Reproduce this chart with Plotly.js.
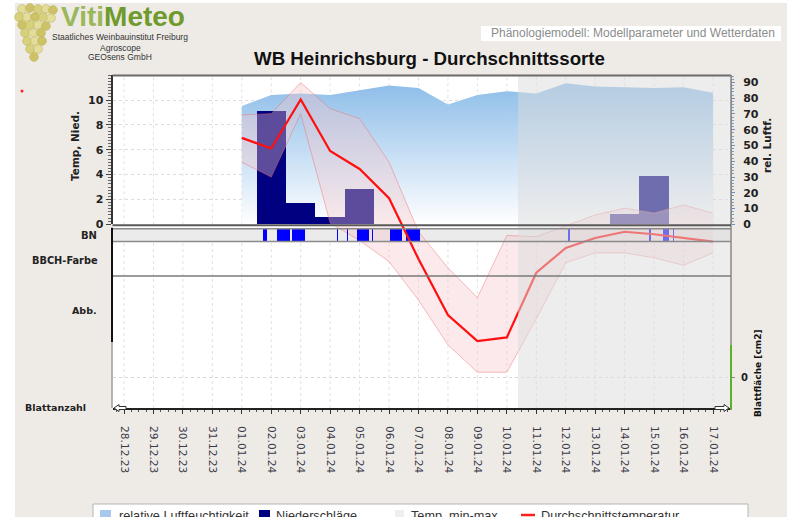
<!DOCTYPE html>
<html><head><meta charset="utf-8">
<script src="https://cdn.plot.ly/plotly-3.0.1.min.js"></script>
<style>html,body{margin:0;padding:0;background:#fff;}#chart{width:787px;height:517px;}</style>
</head><body><div id="chart"></div>
<script>
// ---------- DATA ----------
const dateLabels = ['28.12.23','29.12.23','30.12.23','31.12.23','01.01.24','02.01.24','03.01.24','04.01.24','05.01.24','06.01.24','07.01.24','08.01.24','09.01.24','10.01.24','11.01.24','12.01.24','13.01.24','14.01.24','15.01.24','16.01.24','17.01.24'];
const wxDates = ['01.01.24','02.01.24','03.01.24','04.01.24','05.01.24','06.01.24','07.01.24','08.01.24','09.01.24','10.01.24','11.01.24','12.01.24','13.01.24','14.01.24','15.01.24','16.01.24','17.01.24'];
const humidity = [75, 82, 83, 82, 85, 88, 86.5, 76, 82, 84.5, 83, 89.5, 87.5, 87, 86.5, 87, 83.5];
const tempAvg  = [6.95, 6.1, 10.05, 5.9, 4.45, 2.1, -2.8, -7.3, -9.4, -9.1, -3.9, -1.9, -1.1, -0.6, -0.8, -1.1, -1.4];
const tempMax  = [8.8, 8.9, 11.4, 9.3, 8.5, 5.0, -0.6, -3.5, -5.9, -0.9, -1.0, -0.1, 0.75, 1.3, 0.9, 1.55, 0.9];
const tempMin  = [5.0, 3.8, 8.9, 0.1, -1.3, -3.0, -6.1, -9.7, -11.9, -11.9, -7.6, -3.1, -2.3, -2.3, -2.7, -3.3, -2.3];
const precipDates = ['02.01.24','03.01.24','04.01.24','05.01.24','14.01.24','15.01.24'];
const precipitation = [9.1, 1.7, 0.55, 2.85, 0.85, 3.85];
// leaf wetness (BN) periods: start (days after 28.12.23) and duration (days)
const bnStart = [4.71, 5.18, 5.69, 7.23, 7.57, 7.92, 8.41, 9.03, 9.58, 15.09, 17.84, 18.31, 18.65];
const bnDur   = [0.14, 0.46, 0.46, 0.04, 0.04, 0.41, 0.04, 0.40, 0.47, 0.05, 0.04, 0.21, 0.04];
const forecastStart = 13.38;
const tempTicks = [0,2,4,6,8,10];
const humTicks = [0,10,20,30,40,50,60,70,80,90];
const legendItems = ['relative Luftfeuchtigkeit','Niederschläge','Temp. min-max','Durchschnittstemperatur'];

// ---------- GEOMETRY ----------
const W=787,H=517;
const fx=p=>p/W, fy=p=>1-p/H;
const X0=112.5, X1=731, T0=75, T1=224.3, BN0=228.8, BN1=241.3, BB1=276, B1=408;
const dayPx=29.45, day0Px=124;
const xr=[(X0-day0Px)/dayPx,(X1-day0Px)/dayPx];
const degPx=12.43, humPx=1.576;
const idx = d => dateLabels.indexOf(d);
const wxX = wxDates.map(idx);

const traces = [];
traces.push({x:wxX,y:humidity,type:'scatter',mode:'lines',xaxis:'x',yaxis:'y',line:{width:0,color:'#8fbfea'},
  fill:'tozeroy',fillgradient:{type:'vertical',start:0,stop:90,colorscale:[[0,'#ffffff'],[1,'#8dbde9']]},hoverinfo:'skip'});
traces.push({x:precipDates.map(idx),y:precipitation,type:'bar',width:1,xaxis:'x',yaxis:'y2',marker:{color:'#000080',line:{width:0}}});
traces.push({x:wxX,y:tempMin,type:'scatter',mode:'lines',xaxis:'x',yaxis:'y3',line:{color:'rgba(238,110,110,0.45)',width:1}});
traces.push({x:wxX,y:tempMax,type:'scatter',mode:'lines',xaxis:'x',yaxis:'y3',fill:'tonexty',fillcolor:'rgba(245,197,202,0.38)',line:{color:'rgba(238,110,110,0.45)',width:1}});
traces.push({x:bnStart,y:bnStart.map(()=>1),width:bnDur,offset:0,type:'bar',xaxis:'x',yaxis:'y4',marker:{color:'#0000ff',line:{width:0}}});
traces.push({x:[],y:[],type:'scatter',mode:'lines',xaxis:'x',yaxis:'y5'});
traces.push({x:wxX,y:tempAvg,type:'scatter',mode:'lines',xaxis:'x',yaxis:'y6',line:{color:'#ff1010',width:2.2}});

const boldTick = {family:'DejaVu Sans',size:11,color:'#222',weight:'bold'};
const layout = {
  width:W,height:H,margin:{l:0,r:0,t:0,b:0},autosize:false,
  paper_bgcolor:'#ffffff',plot_bgcolor:'rgba(0,0,0,0)',showlegend:false,bargap:0,
  xaxis:{domain:[fx(X0),fx(X1)],range:xr,anchor:'y3',tickmode:'array',tickvals:dateLabels.map((_,i)=>i),ticktext:dateLabels,
    tickangle:90,ticks:'outside',ticklen:4,tickcolor:'#333',showline:true,linecolor:'#222',linewidth:2,showgrid:false,zeroline:false,
    tickfont:{family:'DejaVu Sans',size:10.6,color:'#3a3a48'},ticklabelstandoff:10,
    minor:{tickmode:'linear',tick0:0,dtick:0.25,ticks:'outside',ticklen:2,tickcolor:'#555',showgrid:false}},
  yaxis:{domain:[fy(T1),fy(T0)],range:[0,(T1-T0)/humPx],anchor:'x',side:'right',tickmode:'array',tickvals:humTicks,
    ticks:'outside',ticklen:3,tickcolor:'#6d8fc0',showline:true,linecolor:'#8a8a8a',linewidth:1,showgrid:false,zeroline:false,
    tickfont:boldTick,ticklabelstandoff:6,minor:{tickmode:'linear',tick0:0,dtick:2,ticks:'outside',ticklen:2,tickcolor:'#7a9ccc'}},
  yaxis2:{overlaying:'y',side:'left',anchor:'x',range:[0,(T1-T0)/degPx],tickmode:'array',tickvals:tempTicks,
    ticks:'outside',ticklen:5,tickcolor:'#444',showline:true,linecolor:'#333',linewidth:2,showgrid:true,gridcolor:'#dcdcdc',griddash:'dot',zeroline:false,
    tickfont:boldTick,minor:{tickmode:'linear',tick0:0,dtick:0.25,ticks:'outside',ticklen:3,tickcolor:'#666'}},
  yaxis3:{domain:[fy(B1),fy(T0)],range:[(T1-B1)/degPx,(T1-T0)/degPx],anchor:'x',visible:false},
  yaxis4:{domain:[fy(BN1),fy(BN0)],range:[0,1],anchor:'x',visible:false},
  yaxis5:{domain:[fy(B1),fy(BB1)],range:[-31,101],anchor:'x',side:'right',tickmode:'array',tickvals:[0],ticktext:['0'],
    ticks:'outside',ticklen:3,tickcolor:'#888',showline:false,showgrid:true,gridcolor:'#d8d8d8',griddash:'dot',zeroline:false,
    tickfont:{family:'DejaVu Sans',size:10,color:'#222',weight:'bold'},ticklabelstandoff:4},
  yaxis6:{domain:[fy(B1),fy(T0)],range:[(T1-B1)/degPx,(T1-T0)/degPx],anchor:'x',visible:false},
  shapes:[],annotations:[]
};
const S=layout.shapes, A=layout.annotations;
const rect=(x0,y0,x1,y1,o)=>Object.assign({type:'rect',xref:'paper',yref:'paper',x0:fx(x0),x1:fx(x1),y0:fy(y1),y1:fy(y0),line:{width:0}},o);
const hline=(x0,x1,y,c,w,o)=>Object.assign({type:'line',xref:'paper',yref:'paper',x0:fx(x0),x1:fx(x1),y0:fy(y),y1:fy(y),line:{color:c,width:w}},o);
const vline=(x,y0,y1,c,w,o)=>Object.assign({type:'line',xref:'paper',yref:'paper',x0:fx(x),x1:fx(x),y0:fy(y0),y1:fy(y1),line:{color:c,width:w}},o);

S.push(rect(15,3,787,517,{fillcolor:'#eeebe7',layer:'below'}));
S.push(rect(X0,T0,X1,B1,{fillcolor:'#ffffff',layer:'below'}));
S.push(rect(X0,BN0,X1,BN1,{fillcolor:'#ebebeb',layer:'below'}));
dateLabels.forEach((d,i)=>{
  S.push({type:'line',xref:'x',yref:'paper',x0:i,x1:i,y0:fy(T1),y1:fy(T0),line:{color:'#e2e2e2',width:1,dash:'dot'},layer:'below'});
  S.push({type:'line',xref:'x',yref:'paper',x0:i,x1:i,y0:fy(B1),y1:fy(BN1),line:{color:'#e2e2e2',width:1,dash:'dot'},layer:'below'});
});
S.push({type:'rect',xref:'x',yref:'paper',x0:forecastStart,x1:xr[1],y0:fy(B1),y1:fy(T0),fillcolor:'rgba(220,220,220,0.5)',line:{width:0},layer:'above'});
S.push(hline(X0,X1,T0+0.5,'#6a6a6a',2,{layer:'above'}));
S.push(vline(X1,T0,B1,'#8a8a8a',1.5,{layer:'above'}));
S.push(hline(X0,X1,225.2,'#5a5a5a',2,{layer:'above'}));
S.push(hline(X0,X1,BN0,'#8a8a8a',1.5,{layer:'above'}));
S.push(hline(X0,X1,BN1+0.3,'#8a8a8a',1.5,{layer:'above'}));
S.push(hline(X0,X1,BB1,'#7a7a7a',1.5,{layer:'above'}));
S.push(vline(X0-0.5,BN0-1,342,'#111',2,{layer:'above'}));
S.push(vline(X0-0.5,342,B1,'#777',1,{layer:'above'}));
S.push(vline(X1,345,410,'#5fae2a',2,{layer:'above'}));
const pth=pts=>'M'+pts.map(p=>fx(p[0])+','+fy(p[1])).join(' L')+' Z';
S.push({type:'path',xref:'paper',yref:'paper',path:pth([[114,408],[119,404.5],[119,406.5],[126,406.5],[126,409.5],[119,409.5],[119,411.5]]),fillcolor:'#fff',line:{color:'#333',width:1},layer:'above'});
S.push({type:'path',xref:'paper',yref:'paper',path:pth([[729,408],[724,404.5],[724,406.5],[715,406.5],[715,409.5],[724,409.5],[724,411.5]]),fillcolor:'#fff',line:{color:'#333',width:1},layer:'above'});
S.push(rect(481,26,781,41,{fillcolor:'#ffffff',layer:'above'}));
S.push(rect(93,504,748,540,{fillcolor:'#ffffff',line:{color:'#b5b5b5',width:1},layer:'above'}));
S.push(rect(100,510,111,521,{fillcolor:'#a9c9ec',layer:'above'}));
S.push(rect(259,510,270,521,{fillcolor:'#000080',layer:'above'}));
S.push(rect(395,510,404,521,{fillcolor:'#f0efef',layer:'above'}));
S.push(hline(521,535,515,'#ff2020',2.5,{layer:'above'}));
// logo grapes (decoration)
const grapes=[[22,9],[30,8],[38,9],[46,9],[53,10],[19,17],[27,17],[35,17],[43,17],[51,18],[22,25],[30,25],[38,25],[46,26],[25,33],[33,33],[41,33],[27,41],[35,41],[42,41],[30,49],[38,49],[34,57]];
grapes.forEach(([cx,cy],k)=>S.push({type:'circle',xref:'paper',yref:'paper',x0:fx(cx-4.4),x1:fx(cx+4.4),y0:fy(cy+4.4),y1:fy(cy-4.4),
  fillcolor:k%3===0?'#e3dd9c':(k%3===1?'#cdc366':'#d8d17c'),line:{color:'#b8ad52',width:0.5},layer:'above'}));
S.push({type:'circle',xref:'paper',yref:'paper',x0:fx(20.5),x1:fx(23.5),y0:fy(92.5),y1:fy(89.5),fillcolor:'#ff2020',line:{width:0},layer:'above'});

const ann=(t,x,y,o)=>Object.assign({text:t,x:fx(x),y:fy(y),xref:'paper',yref:'paper',showarrow:false,xanchor:'center',yanchor:'middle'},o);
A.push(ann('WB Heinrichsburg - Durchschnittssorte',429,58,{font:{family:'Liberation Sans',size:18.7,color:'#111',weight:'bold'}}));
A.push(ann('Phänologiemodell: Modellparameter und Wetterdaten',777,33.5,{xanchor:'right',font:{family:'Liberation Sans',size:12,color:'#8c8c8c'}}));
A.push(ann('<span style="color:#9ab85a">Viti</span><span style="color:#6f9a2c">Meteo</span>',123,17,{font:{family:'Liberation Sans',size:28,weight:'bold'}}));
A.push(ann('Staatliches Weinbauinstitut Freiburg',120,37,{font:{family:'Liberation Sans',size:8.5,color:'#333'}}));
A.push(ann('Agroscope',120,47.5,{font:{family:'Liberation Sans',size:8.5,color:'#333'}}));
A.push(ann('GEOsens GmbH',120,57.5,{font:{family:'Liberation Sans',size:8.5,color:'#333'}}));
const lab={family:'DejaVu Sans',size:10.5,color:'#222',weight:'bold'};
A.push(ann('Temp, Nied.',75,146,{textangle:-90,font:lab}));
A.push(ann('rel. Luftf.',767,146,{textangle:-90,font:lab}));
A.push(ann('BN',88.5,235,{font:{family:'DejaVu Sans',size:10,color:'#222',weight:'bold'}}));
A.push(ann('BBCH-Farbe',65,260,{font:{family:'DejaVu Sans',size:9.8,color:'#222',weight:'bold'}}));
A.push(ann('Abb.',84,310,{font:{family:'DejaVu Sans',size:9.5,color:'#222',weight:'bold'}}));
A.push(ann('Blattanzahl',55,407,{font:{family:'DejaVu Sans',size:9.5,color:'#222',weight:'bold'}}));
A.push(ann('Blattfläche [cm2]',758,373,{textangle:-90,font:{family:'DejaVu Sans',size:9,color:'#111',weight:'bold'}}));
const lf={family:'Liberation Sans',size:12.7,color:'#333'};
A.push(ann(legendItems[0],117,516,{xanchor:'left',font:lf}));
A.push(ann(legendItems[1],274,516,{xanchor:'left',font:lf}));
A.push(ann(legendItems[2],409,516,{xanchor:'left',font:lf}));
A.push(ann(legendItems[3],539,516,{xanchor:'left',font:lf}));

Plotly.newPlot('chart',traces,layout,{displayModeBar:false,staticPlot:true});
</script></body></html>
